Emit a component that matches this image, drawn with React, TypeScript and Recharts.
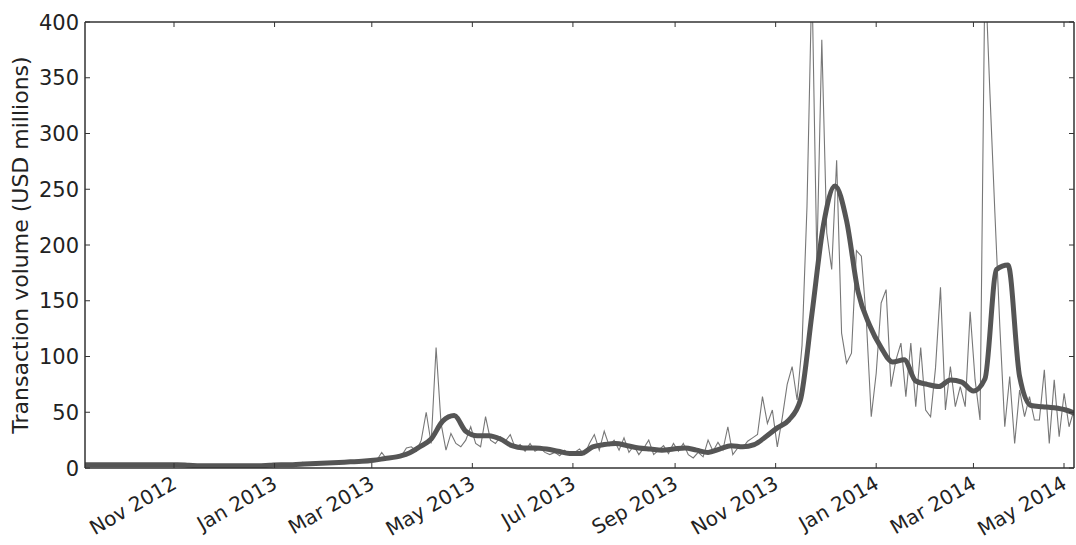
import { LineChart, Line, XAxis, YAxis } from 'recharts'

// day 0 = 2012-09-08, thin series sampled every 3 days, moving average every 7 days
const DAILY_STEP = 3
const MA_STEP = 7

const dailyVolume = [
  3, 4, 3, 2, 4, 3, 3, 4, 2, 3,
  3, 4, 3, 2, 3, 3, 2, 2, 3, 2,
  2, 1, 2, 2, 3, 2, 1, 2, 2, 3,
  2, 2, 3, 2, 3, 3, 2, 3, 4, 3,
  3, 4, 3, 4, 5, 4, 3, 5, 4, 5,
  5,
  5, 6, 5, 6, 5, 7, 6, 8, 7, 14,
  8, 10, 9, 11, 18, 19, 15, 25, 50, 22,
  108, 40, 16, 31, 22, 19, 25, 37, 22, 19,
  46, 25, 22, 28, 24, 30, 18, 21, 15, 22,
  15, 18, 14, 12, 14, 11, 16, 12, 14, 17,
  12, 22, 30, 16, 33, 20, 25, 16, 27, 14,
  20, 12, 18, 25, 12, 16, 20, 13, 22, 15,
  22, 12, 9, 14, 10, 25, 15, 23, 16, 37,
  12, 18, 18, 24, 27, 30, 64, 40, 52, 19,
  45, 75, 91, 61, 110, 234, 440, 186, 384, 211,
  178, 276, 121, 94, 103, 195, 190, 133, 46, 85,
  148, 160, 73, 97, 112, 64, 112, 55, 108, 52,
  46, 90, 162, 52, 91, 55, 73, 55, 140, 79,
  43, 450, 336, 229, 127, 37, 82, 22, 70, 46,
  64, 43, 43, 88, 22, 79, 28, 67, 37, 52,
]

const movingAvg = [
  3, 3, 3, 3, 3, 3, 3, 3, 3, 2.5,
  2, 2, 2, 2, 2, 2, 2.5, 3, 3, 3.5,
  4, 4.5, 5, 5.5, 6, 7, 8.5, 10, 13, 19,
  26, 42, 47, 33, 29, 29, 26, 20, 18, 18,
  17, 15, 13, 13, 19, 21, 22, 20, 18, 17,
  16, 17, 18, 16, 14, 17, 20, 19, 21, 28,
  36, 43, 61, 138, 218, 253, 222, 158, 128, 108,
  95, 97, 78, 75, 73, 79, 77, 69, 80, 178,
  182, 82, 56, 55, 54, 52, 48,
]

const monthTicks = [54, 115, 174, 235, 296, 358, 419, 480, 539, 600]
const monthLabels = [
  'Nov 2012', 'Jan 2013', 'Mar 2013', 'May 2013', 'Jul 2013',
  'Sep 2013', 'Nov 2013', 'Jan 2014', 'Mar 2014', 'May 2014',
]
const volumeTicks = [0, 50, 100, 150, 200, 250, 300, 350, 400]

const FONT = 'DejaVu Sans, Verdana, sans-serif'
const INK = '#222'
const FRAME = '#333'
const MARK = 5
const X_GAP = 7
const Y_GAP = 6

const dailyData = dailyVolume.map((v, i) => ({ day: i * DAILY_STEP, daily: v }))
const maData = movingAvg.map((v, i) => ({ day: i * MA_STEP, avg: v }))

// bottom: rotated month label + inward tick mark
function MonthTick(props: any) {
  const { x, y, payload } = props
  const idx = monthTicks.indexOf(payload.value)
  const ax = x - 3
  const base = y - X_GAP
  return (
    <g>
      <line x1={x} y1={base} x2={x} y2={base - MARK} stroke={FRAME} />
      <text
        x={ax}
        y={y}
        dy="0.71em"
        textAnchor="end"
        fill={INK}
        fontSize={20}
        fontFamily={FONT}
        transform={`rotate(-30, ${ax}, ${y})`}
      >
        {monthLabels[idx]}
      </text>
    </g>
  )
}

function VolumeTick(props: any) {
  const { x, y, payload } = props
  const base = x + Y_GAP
  return (
    <g>
      <line x1={base} y1={y} x2={base + MARK} y2={y} stroke={FRAME} />
      <text x={x} y={y} dy="0.36em" textAnchor="end" fill={INK} fontSize={21} fontFamily={FONT}>
        {payload.value}
      </text>
    </g>
  )
}

function TopMark(props: any) {
  const { x, y } = props
  return <line x1={x} y1={y} x2={x} y2={y + MARK} stroke={FRAME} />
}

function RightMark(props: any) {
  const { x, y } = props
  return <line x1={x} y1={y} x2={x - MARK} y2={y} stroke={FRAME} />
}

function YTitle(props: any) {
  const vb = props.viewBox || {}
  const cy = (vb.y ?? 22) + (vb.height ?? 446) / 2
  return (
    <text
      x={28}
      y={cy}
      textAnchor="middle"
      fill={INK}
      fontSize={22}
      fontFamily={FONT}
      transform={`rotate(-90, 28, ${cy})`}
    >
      Transaction volume (USD millions)
    </text>
  )
}

const frameLine = { stroke: FRAME, strokeWidth: 1.5 }

export default function App() {
  return (
    <div style={{ position: 'absolute', left: 0, top: 0, width: 1076, height: 545, background: '#fff' }}>
      <LineChart width={1076} height={545} margin={{ top: 21, right: 1, bottom: 0, left: 0 }}>
        <XAxis
          xAxisId="bottom"
          type="number"
          dataKey="day"
          domain={[0, 600]}
          allowDataOverflow
          ticks={monthTicks}
          tick={<MonthTick />}
          tickLine={false}
          tickSize={0}
          tickMargin={X_GAP}
          height={77}
          axisLine={frameLine}
        />
        <XAxis
          xAxisId="top"
          orientation="top"
          type="number"
          dataKey="day"
          domain={[0, 600]}
          allowDataOverflow
          ticks={monthTicks}
          tick={<TopMark />}
          tickLine={false}
          tickSize={0}
          tickMargin={0}
          height={1}
          axisLine={frameLine}
        />
        <YAxis
          yAxisId="left"
          type="number"
          domain={[0, 400]}
          allowDataOverflow
          ticks={volumeTicks}
          width={85}
          tickLine={false}
          tickSize={0}
          tickMargin={Y_GAP}
          tick={<VolumeTick />}
          axisLine={frameLine}
          label={<YTitle />}
        />
        <YAxis
          yAxisId="right"
          orientation="right"
          type="number"
          domain={[0, 400]}
          allowDataOverflow
          ticks={volumeTicks}
          width={1}
          tick={<RightMark />}
          tickLine={false}
          tickSize={0}
          tickMargin={0}
          axisLine={frameLine}
        />
        {/* invisible copy so the top/right frame axes have a series */}
        <Line
          xAxisId="top"
          yAxisId="right"
          data={maData}
          dataKey="avg"
          stroke="none"
          dot={false}
          activeDot={false}
          isAnimationActive={false}
        />
        <Line
          xAxisId="bottom"
          yAxisId="left"
          data={dailyData}
          dataKey="daily"
          type="linear"
          stroke="#777"
          strokeWidth={1.1}
          dot={false}
          isAnimationActive={false}
        />
        <Line
          xAxisId="bottom"
          yAxisId="left"
          data={maData}
          dataKey="avg"
          type="monotone"
          stroke="#555"
          strokeWidth={5}
          dot={false}
          isAnimationActive={false}
        />
      </LineChart>
    </div>
  )
}
